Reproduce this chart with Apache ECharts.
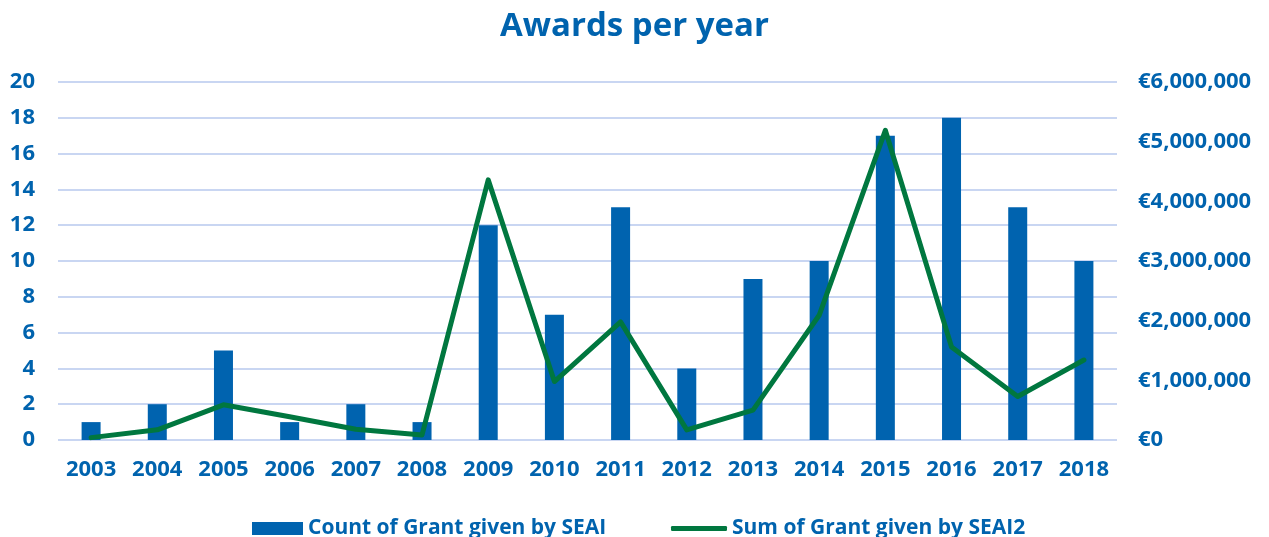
<!DOCTYPE html>
<html><head><meta charset="utf-8">
<script src="https://cdn.jsdelivr.net/npm/echarts@6/dist/echarts.min.js"></script>
<style>html,body{margin:0;padding:0;background:#fff}#c{width:1269px;height:537px}</style>
</head><body><div id="c"></div>
<script>
const years = ['2003','2004','2005','2006','2007','2008','2009','2010','2011','2012','2013','2014','2015','2016','2017','2018'];
const countGrant = [1,2,5,1,2,1,12,7,13,4,9,10,17,18,13,10];
const sumGrant = [40000,170000,590000,390000,180000,85000,4360000,980000,1980000,170000,500000,2090000,5190000,1560000,730000,1340000];
const leftTicks = [0,20,2];
const rightTicks = [0,6000000,1000000];
const BLUE = '#0063AF', GREEN = '#00773F', TXT = '#0063AE';
const FONT = '"Open Sans", "Noto Sans", sans-serif';
const chart = echarts.init(document.getElementById('c'), null, {renderer:'canvas'});
const legText = {color:TXT, fontSize:21, fontWeight:'bold', fontFamily:FONT};
chart.setOption({
  animation:false,
  title:{text:'Awards per year', left:'center', top:5,
    textStyle:{color:TXT, fontSize:33, fontWeight:'bold', fontFamily:FONT}},
  grid:{left:58, right:152, top:82, bottom:97, containLabel:false},
  legend:[
    {left:247, top:513, itemWidth:51, itemHeight:13, icon:'rect',
     textStyle:legText, data:['Count of Grant given by SEAI']},
    {left:666, top:513, itemWidth:56, itemHeight:5, icon:'roundRect',
     textStyle:legText, data:['Sum of Grant given by SEAI2']}
  ],
  xAxis:{type:'category', data:years, axisLine:{show:false}, axisTick:{show:false},
    axisLabel:{color:TXT, fontSize:22, fontWeight:'bold', fontFamily:FONT, margin:19}},
  yAxis:[
    {type:'value', min:leftTicks[0], max:leftTicks[1], interval:leftTicks[2],
     axisLabel:{color:TXT, fontSize:22, fontWeight:'bold', fontFamily:FONT, margin:23},
     splitLine:{lineStyle:{color:'#C9D6F2', width:2}}, axisLine:{show:false}, axisTick:{show:false}},
    {type:'value', min:rightTicks[0], max:rightTicks[1], interval:rightTicks[2],
     axisLabel:{color:TXT, fontSize:22, fontWeight:'bold', fontFamily:FONT, margin:21,
       formatter:v=>'€'+v.toLocaleString('en-US')},
     splitLine:{show:false}, axisLine:{show:false}, axisTick:{show:false}}
  ],
  series:[
    {name:'Count of Grant given by SEAI', type:'bar', data:countGrant, barWidth:19,
     itemStyle:{color:BLUE}, yAxisIndex:0},
    {name:'Sum of Grant given by SEAI2', type:'line', data:sumGrant, yAxisIndex:1,
     symbol:'none', lineStyle:{color:GREEN, width:5, cap:'round', join:'round'}, itemStyle:{color:GREEN}}
  ]
});
</script></body></html>
